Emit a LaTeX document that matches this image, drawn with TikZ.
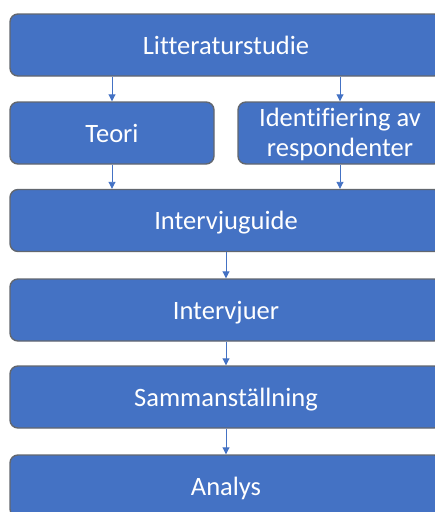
\documentclass[tikz,border=0pt]{standalone}
\usepackage{fontspec}
\setmainfont[Ligatures=NoCommon]{Carlito}
\usetikzlibrary{arrows.meta}
\definecolor{boxblue}{HTML}{4472C4}
\definecolor{boxedge}{HTML}{62676F}
\begin{document}
\begin{tikzpicture}[x=1pt, y=-1pt,
    stage/.style={draw=boxedge, line width=1.4pt, fill=boxblue, rounded corners=8pt,
      text=white, font=\fontsize{26.5}{30}\selectfont, align=center,
      inner sep=0pt, minimum height=62pt},
    wide/.style={stage, minimum width=432pt, text height=21pt, text depth=2.4pt},
    half/.style={stage, minimum width=204pt},
    flow/.style={boxblue, line width=0.9pt, -{Triangle[width=7pt,length=7pt]}}]
  % --- Frame (boxes run past the right and lower edge) ---
  \useasboundingbox (0,0) rectangle (435,512);
  \clip (0,0) rectangle (435,512);
  % --- Stages ---
  \node[wide] (lit) at (226,45) {Litteraturstudie};
  \node[half, text height=21pt, text depth=2.4pt] (teori) at (112,133) {Teori};
  \node[half] (ident) at (340,133)
    {\rule{0pt}{22.4pt}Identifiering av\\respondenter\rule[-5pt]{0pt}{0pt}};
  \node[wide] (guide) at (226,220.5) {Intervjuguide};
  \node[wide] (intv) at (226,310) {Intervjuer};
  \node[wide] (samm) at (226,397) {Sammanställning};
  \node[wide] (anal) at (226,486) {Analys};
  % --- Arrows ---
  \draw[flow] (lit.south -| teori.north) -- (teori.north);
  \draw[flow] (lit.south -| ident.north) -- (ident.north);
  \draw[flow] (teori.south) -- (teori.south |- guide.north);
  \draw[flow] (ident.south) -- (ident.south |- guide.north);
  \draw[flow] (guide.south) -- (intv.north);
  \draw[flow] (intv.south) -- (samm.north);
  \draw[flow] (samm.south) -- (anal.north);
\end{tikzpicture}
\end{document}
